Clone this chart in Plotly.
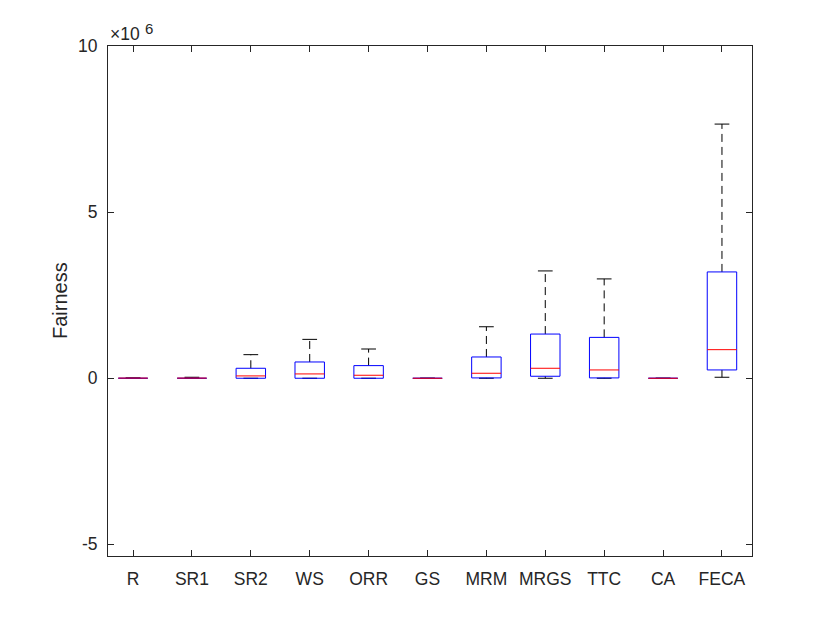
import plotly.graph_objects as go

# boxplot of fairness per scheduling method
methods = ['R', 'SR1', 'SR2', 'WS', 'ORR', 'GS', 'MRM', 'MRGS', 'TTC', 'CA', 'FECA']
lower_whisker = [0, 0, 0, 0, 0, 0, 0, 0, 0, 0, 0.03e6]
q1 = [0, 0, 0, 0, 0, 0, 0.01e6, 0.06e6, 0.01e6, 0, 0.25e6]
median = [0.005e6, 0.005e6, 0.07e6, 0.13e6, 0.09e6, 0, 0.15e6, 0.30e6, 0.25e6, 0, 0.86e6]
q3 = [0.01e6, 0.02e6, 0.30e6, 0.49e6, 0.38e6, 0, 0.64e6, 1.33e6, 1.23e6, 0, 3.20e6]
upper_whisker = [0.01e6, 0.03e6, 0.71e6, 1.17e6, 0.88e6, 0, 1.55e6, 3.23e6, 2.99e6, 0, 7.65e6]

BOX_W = 0.25   # half box width
CAP_W = 0.125  # half cap width
AXC = '#262626'
FONT = 'Liberation Sans, Arial, sans-serif'

pos = list(range(1, len(methods) + 1))

bx, by, mx, my, wx, wy, cx, cy = [], [], [], [], [], [], [], []
for p, lo, a, m, b, hi in zip(pos, lower_whisker, q1, median, q3, upper_whisker):
    bx += [p - BOX_W, p + BOX_W, p + BOX_W, p - BOX_W, p - BOX_W, None]
    by += [a, a, b, b, a, None]
    mx += [p - BOX_W, p + BOX_W, None]
    my += [m, m, None]
    wx += [p, p, None, p, p, None]
    wy += [b, hi, None, lo, a, None]
    cx += [p - CAP_W, p + CAP_W, None, p - CAP_W, p + CAP_W, None]
    cy += [hi, hi, None, lo, lo, None]

fig = go.Figure()
fig.add_trace(go.Scatter(x=wx, y=wy, mode='lines',
                         line=dict(color='black', width=1, dash='8px,5px')))
fig.add_trace(go.Scatter(x=cx, y=cy, mode='lines', line=dict(color='black', width=1)))
fig.add_trace(go.Scatter(x=bx, y=by, mode='lines', line=dict(color='#0000ff', width=1)))
fig.add_trace(go.Scatter(x=mx, y=my, mode='lines', line=dict(color='#ff0000', width=1)))

fig.update_layout(
    width=830, height=623,
    margin=dict(l=100, r=86, t=38, b=75),
    paper_bgcolor='white', plot_bgcolor='white',
    showlegend=False,
    font=dict(family=FONT, size=17.5, color=AXC),
    xaxis=dict(range=[0.575, 11.51], tickvals=pos, ticktext=methods,
               showline=True, linecolor=AXC, linewidth=1, mirror='ticks',
               ticks='inside', ticklen=6, tickcolor=AXC, showgrid=False,
               zeroline=False, ticklabelstandoff=7),
    yaxis=dict(range=[-5.35e6, 10e6], tickvals=[-5e6, 0, 5e6, 10e6],
               ticktext=['-5', '0', '5', '10'],
               showline=True, linecolor=AXC, linewidth=1, mirror='ticks',
               ticks='inside', ticklen=6, tickcolor=AXC, showgrid=False,
               zeroline=False, ticklabelstandoff=6),
    annotations=[
        dict(text='Fairness', xref='paper', yref='paper', x=(60 - 108) / 644, y=0.5,
             xanchor='center', yanchor='middle', textangle=-90, showarrow=False,
             font=dict(size=20, color=AXC)),
        # MATLAB-style exponent label: "×10" with a raised "6"
        dict(text='×10', xref='paper', yref='paper', x=0, y=1,
             xanchor='left', yanchor='bottom', showarrow=False,
             font=dict(size=17.5, color=AXC)),
        dict(text='6', xref='paper', yref='paper', x=0, y=1, xshift=35, yshift=7,
             xanchor='left', yanchor='bottom', showarrow=False,
             font=dict(size=15, color=AXC)),
    ],
)

fig.write_html("out.html")
